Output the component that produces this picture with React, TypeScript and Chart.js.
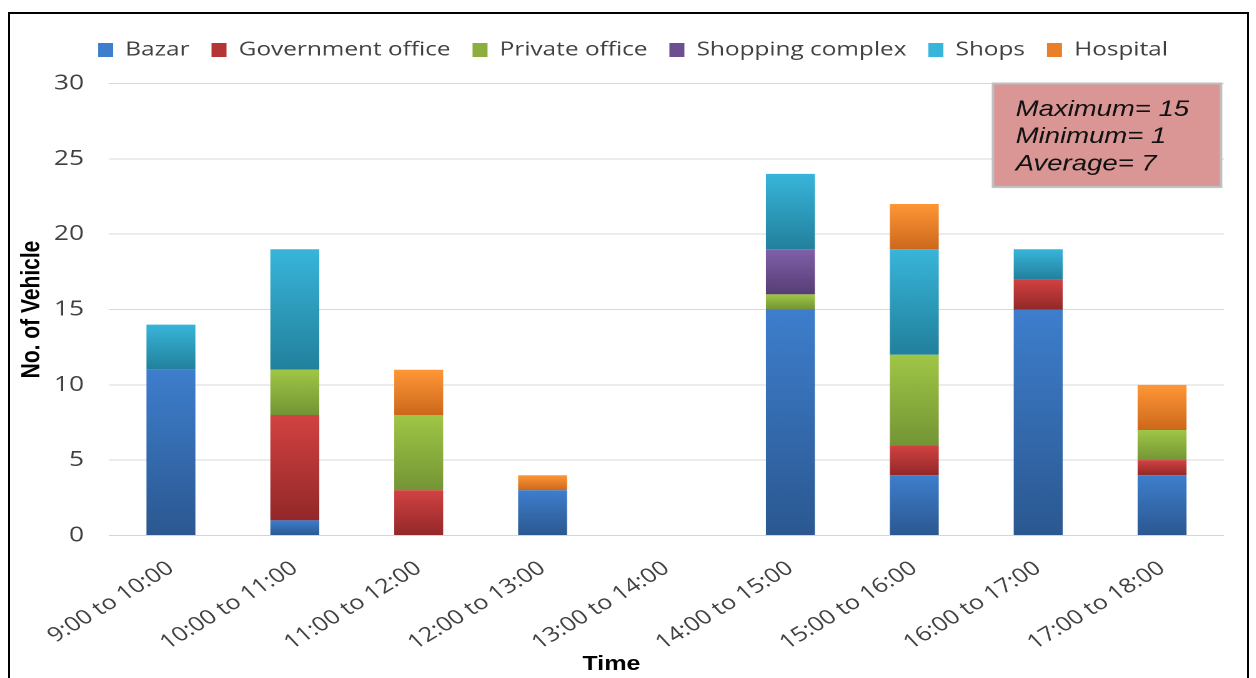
import React, { useEffect, useRef } from "react";
import { Chart, registerables } from "chart.js";

Chart.register(...registerables);

// ---------- data ----------
const categories = [
  "9:00 to 10:00",
  "10:00 to 11:00",
  "11:00 to 12:00",
  "12:00 to 13:00",
  "13:00 to 14:00",
  "14:00 to 15:00",
  "15:00 to 16:00",
  "16:00 to 17:00",
  "17:00 to 18:00",
];
const bazar = [11, 1, 0, 3, 0, 15, 4, 15, 4];
const governmentOffice = [0, 7, 3, 0, 0, 0, 2, 2, 1];
const privateOffice = [0, 3, 5, 0, 0, 1, 6, 0, 2];
const shoppingComplex = [0, 0, 0, 0, 0, 3, 0, 0, 0];
const shops = [3, 8, 0, 0, 0, 5, 7, 2, 0];
const hospital = [0, 0, 3, 1, 0, 0, 3, 0, 3];

const seriesNames = ["Bazar", "Government office", "Private office", "Shopping complex", "Shops", "Hospital"];
const seriesValues = [bazar, governmentOffice, privateOffice, shoppingComplex, shops, hospital];
const seriesLight = ["#3E7ECD", "#D24242", "#A0C646", "#8060AA", "#38B5DA", "#FF9736"];
const seriesDark = ["#2B5890", "#932828", "#749535", "#573D75", "#22809C", "#CC681C"];
const seriesMid = ["#356CAF", "#B43535", "#8BAE3E", "#6C4F90", "#2E9BBB", "#E98029"];

const yMin = 0;
const yMax = 30;
const yStep = 5;

const statNames = ["Maximum", "Minimum", "Average"];
const statValues = [15, 1, 7];

const xTitle = "Time";
const yTitle = "No. of Vehicle";

// ---------- layout ----------
const CANVAS_W = 990;
const CANVAS_H = 664;
const STRETCH = 1237 / CANVAS_W;

export default function App() {
  const ref = useRef<HTMLCanvasElement | null>(null);

  useEffect(() => {
    const canvas = ref.current;
    if (!canvas) return;

    const makeFill = (s: number) => (ctx: any) => {
      const chart = ctx.chart;
      const yScale = chart.scales ? chart.scales.y : undefined;
      if (ctx.type !== "data" || !yScale || !chart.chartArea) return seriesMid[s];
      const i = ctx.dataIndex;
      let base = 0;
      for (let k = 0; k < s; k++) base += Number(chart.data.datasets[k].data[i]) || 0;
      const v = Number(chart.data.datasets[s].data[i]) || 0;
      const top = yScale.getPixelForValue(base + v);
      const bottom = yScale.getPixelForValue(base);
      if (!isFinite(top) || !isFinite(bottom) || bottom - top < 0.5) return seriesMid[s];
      const g = chart.ctx.createLinearGradient(0, top, 0, bottom);
      g.addColorStop(0, seriesLight[s]);
      g.addColorStop(1, seriesDark[s]);
      return g;
    };

    const legendSpacer = {
      id: "legendSpacer",
      beforeLayout(chart: any) {
        const lg = chart.legend;
        if (lg && !lg.__spacer) {
          const origFit = lg.fit.bind(lg);
          lg.fit = function () {
            origFit();
            this.height += 13.75;
          };
          const origDraw = lg.draw.bind(lg);
          lg.draw = function () {
            const c = this.ctx;
            c.save();
            c.translate(12.8, 0);
            origDraw();
            c.restore();
          };
          lg.__spacer = true;
        }
      },
    };

    const statsBox = {
      id: "statsBox",
      afterDraw(chart: any) {
        const { ctx, chartArea } = chart;
        const w = 182.5;
        const h = 103.4;
        const right = chartArea.right - 2.4;
        const left = right - w;
        const top = chartArea.top;
        ctx.save();
        ctx.shadowColor = "rgba(0,0,0,0.25)";
        ctx.shadowBlur = 3;
        ctx.shadowOffsetX = 1;
        ctx.shadowOffsetY = 1;
        ctx.fillStyle = "#D99694";
        ctx.fillRect(left, top, w, h);
        ctx.shadowColor = "transparent";
        ctx.strokeStyle = "#BFBFBF";
        ctx.lineWidth = 2;
        ctx.strokeRect(left, top, w, h);
        ctx.fillStyle = "#111111";
        ctx.font = 'italic 22px "Liberation Sans", Arial, sans-serif';
        ctx.textAlign = "left";
        ctx.textBaseline = "alphabetic";
        statNames.forEach((n, k) => {
          ctx.fillText(`${n}= ${statValues[k]}`, left + 18.2, top + 32.4 + k * 27.3);
        });
        ctx.restore();
      },
    };

    const xTitlePlugin = {
      id: "xTitlePlugin",
      afterDraw(chart: any) {
        const { ctx, chartArea } = chart;
        const x = chartArea.left + 0.4506 * (chartArea.right - chartArea.left);
        ctx.save();
        ctx.font = 'bold 20px "Liberation Sans", Arial, sans-serif';
        ctx.fillStyle = "#000000";
        ctx.textAlign = "center";
        ctx.textBaseline = "alphabetic";
        ctx.fillText(xTitle, x, chart.height - 8);
        ctx.restore();
      },
    };

    const chart = new Chart(canvas, {
      type: "bar",
      data: {
        labels: categories,
        datasets: seriesNames.map((name, s) => ({
          label: name,
          data: seriesValues[s],
          backgroundColor: makeFill(s),
          borderWidth: 0,
          categoryPercentage: 1,
          barPercentage: 0.395,
        })),
      },
      options: {
        animation: false,
        responsive: false,
        devicePixelRatio: 2,
        layout: { padding: { top: 8.65, left: 0, right: 18.4, bottom: 0 } },
        plugins: {
          legend: {
            display: true,
            position: "top",
            labels: {
              font: { family: '"Open Sans", sans-serif', size: 19.5 },
              color: "#404040",
              boxWidth: 12,
              boxHeight: 14,
              padding: 17.6,
            },
          },
          tooltip: { enabled: false },
          title: { display: false },
        },
        scales: {
          x: {
            stacked: true,
            grid: { display: false },
            border: { display: false },
            ticks: {
              autoSkip: false,
              maxRotation: 37,
              minRotation: 37,
              padding: 13,
              color: "#404040",
              font: { family: '"Open Sans", sans-serif', size: 20 },
            },
            afterFit: (scale: any) => {
              scale.height = 142.5;
            },
          },
          y: {
            stacked: true,
            min: yMin,
            max: yMax,
            ticks: {
              stepSize: yStep,
              padding: 20,
              color: "#404040",
              font: { family: '"Open Sans", sans-serif', size: 21 },
            },
            grid: {
              drawTicks: false,
              color: (ctx: any) => (ctx.tick && ctx.tick.value === 0 ? "#C9D7E9" : "#D9D9D9"),
              lineWidth: 1,
            },
            border: { display: false },
            title: {
              display: true,
              text: yTitle,
              color: "#000000",
              font: { family: '"Liberation Sans", Arial, sans-serif', size: 21, weight: "bold" },
              padding: { top: 5, bottom: 0 },
            },
            afterFit: (scale: any) => {
              scale.width = 79.2;
            },
          },
        },
      },
      plugins: [legendSpacer, statsBox, xTitlePlugin],
    } as any);

    return () => chart.destroy();
  }, []);

  return (
    <div style={{ position: "fixed", left: 0, top: 0, right: 0, bottom: 0, overflow: "hidden", background: "#ffffff" }}>
      <div
        style={{
          position: "absolute",
          left: 8,
          top: 12,
          width: 1237,
          height: 700,
          border: "2px solid #000000",
          background: "#ffffff",
        }}
      >
        <div
          style={{
            position: "absolute",
            left: 0,
            top: 0,
            width: CANVAS_W,
            height: CANVAS_H,
            transform: `scaleX(${STRETCH})`,
            transformOrigin: "0 0",
          }}
        >
          <canvas ref={ref} width={CANVAS_W} height={CANVAS_H} style={{ width: CANVAS_W, height: CANVAS_H, display: "block" }} />
        </div>
      </div>
    </div>
  );
}
